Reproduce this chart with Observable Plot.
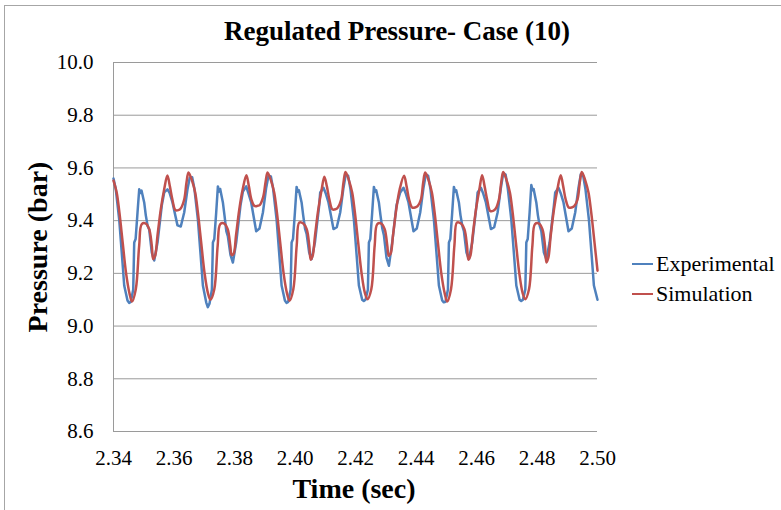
<!DOCTYPE html>
<html>
<head>
<meta charset="utf-8">
<script src="https://cdn.jsdelivr.net/npm/d3@7"></script>
<script src="https://cdn.jsdelivr.net/npm/@observablehq/plot@0.6"></script>
<style>
  html, body { margin: 0; padding: 0; background: #fff; }
  #wrap { position: relative; width: 781px; height: 510px; overflow: hidden; background: #fff; }
  #frame { position: absolute; left: 4px; top: 5px; width: 800px; height: 520px; border: 1px solid #a6a6a6; box-sizing: border-box; }
  .lbl { position: absolute; font-family: 'Liberation Serif', serif; color: #000; line-height: 1; white-space: nowrap; transform: translate(-50%, -50%); }
  #title { left: 397px; top: 31px; font-size: 27px; font-weight: bold; }
  #xtitle { left: 354px; top: 489px; font-size: 28px; font-weight: bold; }
  #ytitle { left: 38px; top: 247px; font-size: 28px; font-weight: bold; transform: translate(-50%, -50%) rotate(-90deg); }
  .leg { position: absolute; font-family: 'Liberation Serif', serif; font-size: 22px; line-height: 1; white-space: nowrap; left: 632px; transform: translateY(-50%); display: flex; align-items: center; }
  .leg i { display: inline-block; width: 21px; height: 2.5px; margin-right: 3px; }
  #plot { position: absolute; left: 0; top: 0; }
</style>
</head>
<body>
<div id="wrap">
  <div id="frame"></div>
  <div id="plot"></div>
  <div class="lbl" id="title">Regulated Pressure- Case (10)</div>
  <div class="lbl" id="xtitle">Time (sec)</div>
  <div class="lbl" id="ytitle">Pressure (bar)</div>
  <div class="leg" id="leg1" style="top:264px"><i style="background:#4F81BD"></i>Experimental</div>
  <div class="leg" id="leg2" style="top:294px"><i style="background:#C0504D"></i>Simulation</div>
</div>
<script>
const xTicks = [2.34, 2.36, 2.38, 2.40, 2.42, 2.44, 2.46, 2.48, 2.50];
const yTicks = [8.6, 8.8, 9.0, 9.2, 9.4, 9.6, 9.8, 10.0];
const seriesNames = ["Experimental", "Simulation"];

// Experimental: [time (s), pressure (bar)]
const experimental = [
[2.34000,9.56],[2.34076,9.519],[2.34189,9.404],[2.34298,9.241],[2.34354,9.154],[2.34463,9.097],[2.34516,9.088],[2.34572,9.092],[2.34652,9.139],[2.34685,9.317],[2.34731,9.33],[2.34794,9.431],[2.34850,9.519],[2.34890,9.505],[2.34926,9.514],[2.35015,9.469],[2.35068,9.420],[2.35128,9.38],[2.35181,9.366],[2.35266,9.279],[2.35346,9.249],[2.35455,9.317],[2.35597,9.458],[2.35676,9.507],[2.35785,9.519],[2.35854,9.505],[2.35950,9.469],[2.36115,9.382],[2.36224,9.378],[2.36337,9.431],[2.36446,9.519],[2.36522,9.564],
[2.36601,9.565],[2.36677,9.519],[2.36790,9.404],[2.36899,9.241],[2.36955,9.154],[2.37064,9.09],[2.37117,9.072],[2.37173,9.085],[2.37253,9.139],[2.37286,9.317],[2.37332,9.33],[2.37395,9.431],[2.37451,9.53],[2.37491,9.51],[2.37527,9.52],[2.37616,9.469],[2.37669,9.420],[2.37729,9.36],[2.37782,9.34],[2.37867,9.27],[2.37947,9.241],[2.38056,9.317],[2.38198,9.458],[2.38278,9.51],[2.38387,9.53],[2.38456,9.505],[2.38552,9.469],[2.38717,9.36],[2.38826,9.37],[2.38939,9.431],[2.39048,9.525],[2.39124,9.57],
[2.39203,9.568],[2.39279,9.519],[2.39392,9.404],[2.39501,9.241],[2.39557,9.154],[2.39666,9.097],[2.39719,9.088],[2.39775,9.092],[2.39855,9.139],[2.39888,9.317],[2.39934,9.33],[2.39997,9.431],[2.40053,9.528],[2.40093,9.51],[2.40129,9.515],[2.40218,9.469],[2.40271,9.420],[2.40331,9.37],[2.40384,9.35],[2.40469,9.279],[2.40549,9.254],[2.40658,9.317],[2.40800,9.458],[2.40833,9.507],[2.40942,9.525],[2.41011,9.505],[2.41107,9.469],[2.41272,9.368],[2.41381,9.375],[2.41494,9.431],[2.41603,9.525],[2.41679,9.576],
[2.41758,9.57],[2.41834,9.519],[2.41947,9.404],[2.42056,9.241],[2.42112,9.154],[2.42221,9.1],[2.42274,9.095],[2.42330,9.1],[2.42410,9.139],[2.42443,9.317],[2.42489,9.33],[2.42552,9.431],[2.42608,9.528],[2.42648,9.51],[2.42684,9.515],[2.42773,9.469],[2.42826,9.420],[2.42886,9.37],[2.42939,9.345],[2.43024,9.26],[2.43104,9.229],[2.43213,9.317],[2.43355,9.458],[2.43478,9.507],[2.43587,9.525],[2.43656,9.505],[2.43752,9.469],[2.43917,9.36],[2.44026,9.37],[2.44139,9.431],[2.44248,9.525],[2.44324,9.576],
[2.44403,9.57],[2.44479,9.519],[2.44592,9.404],[2.44701,9.241],[2.44757,9.154],[2.44866,9.097],[2.44919,9.09],[2.44975,9.092],[2.45055,9.139],[2.45088,9.317],[2.45134,9.33],[2.45197,9.431],[2.45253,9.528],[2.45293,9.51],[2.45329,9.515],[2.45418,9.469],[2.45471,9.420],[2.45531,9.38],[2.45584,9.36],[2.45669,9.279],[2.45749,9.254],[2.45858,9.317],[2.46000,9.458],[2.46037,9.507],[2.46146,9.525],[2.46215,9.505],[2.46311,9.469],[2.46476,9.368],[2.46585,9.375],[2.46698,9.431],[2.46807,9.525],[2.46883,9.58],
[2.46962,9.575],[2.47038,9.519],[2.47151,9.404],[2.47260,9.241],[2.47316,9.154],[2.47425,9.1],[2.47478,9.095],[2.47534,9.1],[2.47614,9.139],[2.47647,9.317],[2.47693,9.33],[2.47756,9.431],[2.47812,9.535],[2.47852,9.515],[2.47888,9.52],[2.47977,9.469],[2.48030,9.420],[2.48090,9.38],[2.48143,9.36],[2.48228,9.279],[2.48308,9.254],[2.48417,9.317],[2.48559,9.458],[2.48602,9.507],[2.48711,9.525],[2.48780,9.505],[2.48876,9.469],[2.49041,9.36],[2.49150,9.37],[2.49263,9.431],[2.49372,9.525],[2.49448,9.576],
[2.49527,9.57],[2.49603,9.519],[2.49716,9.404],[2.49825,9.241],[2.49881,9.154],[2.50000,9.10]
];

// Simulation: [time (s), pressure (bar)]
const simulation = [
[2.34000,9.552],[2.34105,9.507],[2.34195,9.431],[2.34304,9.317],[2.34413,9.203],[2.34529,9.124],[2.34611,9.093],[2.34737,9.14],[2.34849,9.305],[2.34935,9.387],[2.35067,9.389],[2.35180,9.368],[2.35266,9.305],[2.35312,9.254],[2.35378,9.267],[2.35454,9.343],[2.35563,9.443],[2.35676,9.519],[2.35781,9.571],[2.35864,9.53],[2.35947,9.48],[2.36046,9.44],[2.36145,9.44],[2.36228,9.447],[2.36337,9.48],[2.36413,9.545],[2.36479,9.583],
[2.36595,9.552],[2.36700,9.507],[2.36790,9.431],[2.36899,9.317],[2.37008,9.203],[2.37124,9.124],[2.37206,9.10],[2.37332,9.14],[2.37444,9.305],[2.37530,9.387],[2.37662,9.389],[2.37775,9.368],[2.37861,9.305],[2.37907,9.269],[2.37973,9.275],[2.38049,9.343],[2.38158,9.443],[2.38271,9.519],[2.38393,9.572],[2.38476,9.53],[2.38559,9.48],[2.38658,9.456],[2.38757,9.456],[2.38840,9.46],[2.38949,9.49],[2.39025,9.545],[2.39091,9.583],
[2.39207,9.552],[2.39312,9.507],[2.39402,9.431],[2.39511,9.317],[2.39620,9.203],[2.39736,9.124],[2.39818,9.096],[2.39944,9.14],[2.40056,9.305],[2.40142,9.393],[2.40274,9.389],[2.40387,9.368],[2.40473,9.305],[2.40519,9.252],[2.40585,9.267],[2.40661,9.343],[2.40770,9.443],[2.40883,9.519],[2.40971,9.567],[2.41054,9.53],[2.41137,9.48],[2.41236,9.443],[2.41335,9.443],[2.41418,9.45],[2.41527,9.48],[2.41603,9.545],[2.41669,9.585],
[2.41785,9.552],[2.41890,9.507],[2.41980,9.431],[2.42089,9.317],[2.42198,9.203],[2.42314,9.124],[2.42396,9.102],[2.42522,9.14],[2.42634,9.305],[2.42720,9.387],[2.42852,9.389],[2.42965,9.368],[2.43051,9.305],[2.43097,9.267],[2.43163,9.275],[2.43239,9.343],[2.43348,9.443],[2.43461,9.519],[2.43606,9.570],[2.43689,9.53],[2.43772,9.48],[2.43871,9.45],[2.43970,9.45],[2.44053,9.455],[2.44162,9.48],[2.44238,9.545],[2.44304,9.583],
[2.44420,9.552],[2.44525,9.507],[2.44615,9.431],[2.44724,9.317],[2.44833,9.203],[2.44949,9.124],[2.45031,9.093],[2.45157,9.14],[2.45269,9.305],[2.45355,9.393],[2.45487,9.389],[2.45600,9.368],[2.45686,9.305],[2.45732,9.252],[2.45798,9.267],[2.45874,9.343],[2.45983,9.443],[2.46096,9.519],[2.46185,9.572],[2.46268,9.53],[2.46351,9.48],[2.46450,9.437],[2.46549,9.437],[2.46632,9.445],[2.46741,9.48],[2.46817,9.545],[2.46883,9.585],
[2.46999,9.552],[2.47104,9.507],[2.47194,9.431],[2.47303,9.317],[2.47412,9.203],[2.47528,9.124],[2.47610,9.102],[2.47736,9.14],[2.47848,9.305],[2.47934,9.387],[2.48066,9.389],[2.48179,9.368],[2.48265,9.305],[2.48311,9.241],[2.48377,9.26],[2.48453,9.343],[2.48562,9.443],[2.48675,9.519],[2.48783,9.572],[2.48866,9.53],[2.48949,9.48],[2.49048,9.45],[2.49147,9.45],[2.49230,9.455],[2.49339,9.48],[2.49415,9.545],[2.49481,9.585],
[2.49597,9.552],[2.49702,9.507],[2.49792,9.431],[2.49901,9.317],[2.50000,9.21]
];

const colors = {Experimental: "#4F81BD", Simulation: "#C0504D"};

const chart = Plot.plot({
  width: 781,
  height: 510,
  marginLeft: 113,
  marginRight: 184,
  marginTop: 62,
  marginBottom: 79,
  style: {fontFamily: "'Liberation Serif', serif", fontSize: "21px", color: "#000", background: "transparent", overflow: "visible"},
  x: {domain: [2.34, 2.50]},
  y: {domain: [8.6, 10.0]},
  marks: [
    Plot.ruleY(yTicks, {stroke: "#9a9a9a", strokeWidth: 1}),
    Plot.ruleX([2.34], {stroke: "#9a9a9a", strokeWidth: 1}),
    Plot.line(experimental, {x: d => d[0], y: d => d[1], stroke: colors[seriesNames[0]], strokeWidth: 2.5, curve: "linear"}),
    Plot.line(simulation, {x: d => d[0], y: d => d[1], stroke: colors[seriesNames[1]], strokeWidth: 2.5, curve: "catmull-rom"}),
    Plot.axisX({ticks: xTicks, tickSize: 0, tickPadding: 19, tickFormat: d => d.toFixed(2), label: null}),
    Plot.axisY({ticks: yTicks, tickSize: 0, tickPadding: 20, tickFormat: d => d.toFixed(1), label: null})
  ]
});
document.getElementById("plot").appendChild(chart);
</script>
</body>
</html>
